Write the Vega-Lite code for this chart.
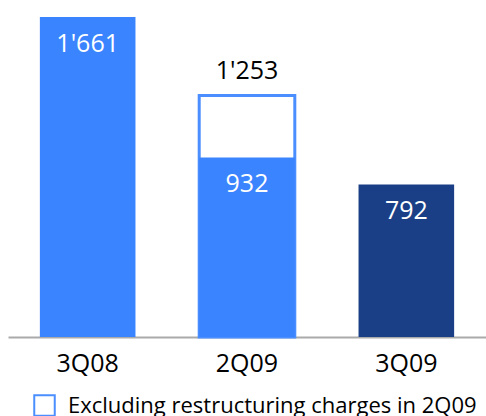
{
  "$schema": "https://vega.github.io/schema/vega-lite/v6.json",
  "width": 478,
  "height": 337,
  "autosize": {"type": "none"},
  "padding": {"left": 8, "top": 0, "right": 0, "bottom": 79},
  "background": "white",
  "config": {
    "view": {"stroke": null},
    "font": "Open Sans",
    "locale": {"number": {"decimal": ".", "thousands": "'", "grouping": [3], "currency": ["", ""]}}
  },
  "data": {"values": [
    {"period": "3Q08", "value": 1661, "excl": null},
    {"period": "2Q09", "value": 932, "excl": 1253},
    {"period": "3Q09", "value": 792, "excl": null}
  ]},
  "encoding": {
    "x": {
      "field": "period", "type": "nominal",
      "scale": {"domain": ["3Q08", "2Q09", "3Q09"], "paddingInner": 0.4, "paddingOuter": 0.2},
      "axis": {
        "title": null, "ticks": false, "labelAngle": 0,
        "labelFontSize": 25, "labelColor": "#000000", "labelPadding": 14,
        "domainColor": "#aaaaaa", "domainWidth": 2
      }
    },
    "y": {"type": "quantitative", "scale": {"domain": [0, 1749], "nice": false}, "axis": null}
  },
  "layer": [
    {
      "transform": [{"filter": "datum.excl != null"}, {"calculate": "'Excluding restructuring charges in 2Q09'", "as": "series"}],
      "mark": {"type": "bar", "fill": "white", "strokeWidth": 3},
      "encoding": {
        "y": {"field": "excl", "type": "quantitative", "scale": {"domain": [0, 1749], "nice": false}, "axis": null},
        "stroke": {
          "field": "series", "type": "nominal",
          "scale": {"range": ["#4a8eff"]},
          "legend": {
            "title": null, "orient": "none", "legendX": 25, "legendY": 394,
            "symbolType": "square", "symbolSize": 420, "symbolFillColor": "white",
            "symbolStrokeWidth": 2, "labelFontSize": 22, "labelColor": "#000000",
            "labelOffset": 12, "labelLimit": 600, "padding": 0
          }
        }
      }
    },
    {
      "mark": {"type": "bar"},
      "encoding": {
        "y": {"field": "value", "type": "quantitative", "scale": {"domain": [0, 1749], "nice": false}, "axis": null},
        "fill": {
          "field": "period", "type": "nominal",
          "scale": {"domain": ["3Q08", "2Q09", "3Q09"], "range": ["#3a84ff", "#3a84ff", "#1b3f87"]},
          "legend": null
        }
      }
    },
    {
      "mark": {"type": "text", "baseline": "middle", "dy": 27, "fontSize": 25, "color": "white"},
      "encoding": {
        "y": {"field": "value", "type": "quantitative"},
        "text": {"field": "value", "type": "quantitative", "format": ",d"}
      }
    },
    {
      "transform": [{"filter": "datum.excl != null"}],
      "mark": {"type": "text", "baseline": "middle", "dy": -25, "fontSize": 25, "color": "black"},
      "encoding": {
        "y": {"field": "excl", "type": "quantitative"},
        "text": {"field": "excl", "type": "quantitative", "format": ",d"}
      }
    }
  ]
}
